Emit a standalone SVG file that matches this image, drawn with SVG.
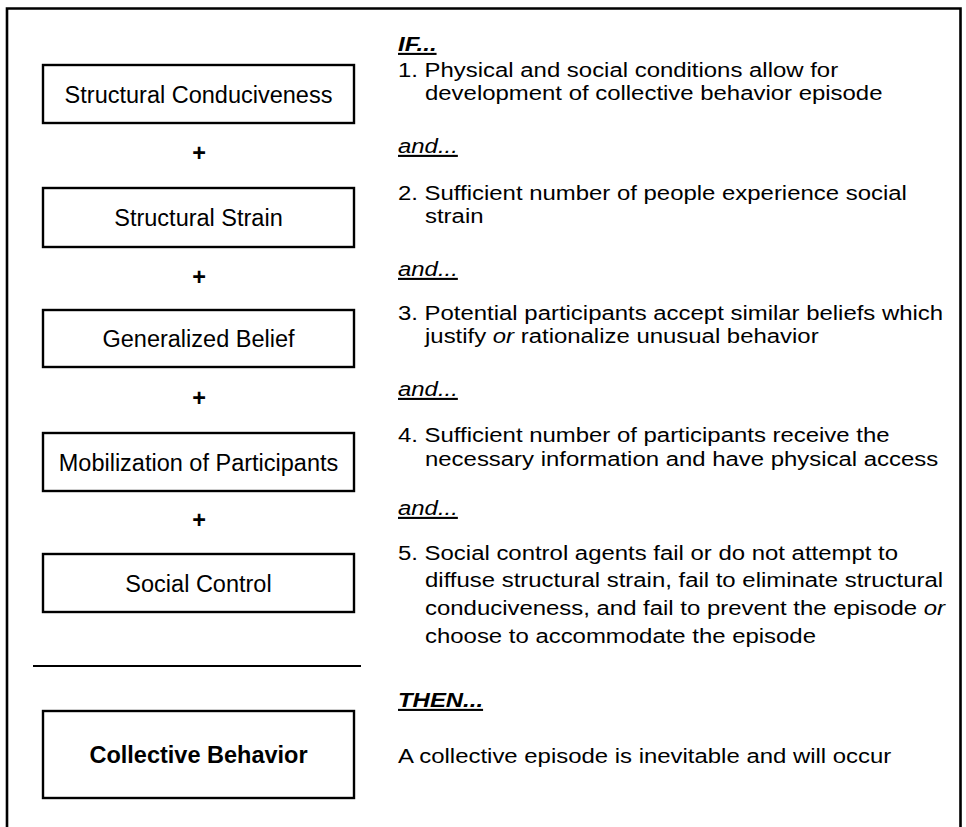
<svg xmlns="http://www.w3.org/2000/svg" width="966" height="827" viewBox="0 0 966 827">
  <style>
    .box { fill: #ffffff; stroke: #000000; stroke-width: 2.4; }
    .lbl { font-family: "Liberation Sans", Arial, sans-serif; font-size: 23.5px; fill: #000; text-anchor: middle; }
    .bold { font-weight: bold; }
    .plus { font-family: "Liberation Sans", Arial, sans-serif; font-size: 23.5px; font-weight: bold; fill: #000; text-anchor: middle; }
    .rt { font-family: "Liberation Sans", Arial, sans-serif; font-size: 21px; fill: #000; }
    .hd { font-style: italic; text-decoration: underline; }
    .it { font-style: italic; }
  </style>
  <rect x="0" y="0" width="966" height="827" fill="#ffffff"/>
  <path d="M7 835 V8.5 H960.5 V835" fill="none" stroke="#000" stroke-width="2.6"/>

  <g id="node-structural-conduciveness">
    <rect class="box" x="43" y="65" width="311" height="58"/>
    <text class="lbl" x="198.5" y="102.5">Structural Conduciveness</text>
  </g>
  <g id="node-structural-strain">
    <rect class="box" x="43" y="188" width="311" height="59"/>
    <text class="lbl" x="198.5" y="226">Structural Strain</text>
  </g>
  <g id="node-generalized-belief">
    <rect class="box" x="43" y="310" width="311" height="57"/>
    <text class="lbl" x="198.5" y="346.5">Generalized Belief</text>
  </g>
  <g id="node-mobilization">
    <rect class="box" x="43" y="433" width="311" height="58"/>
    <text class="lbl" x="198.5" y="470.5">Mobilization of Participants</text>
  </g>
  <g id="node-social-control">
    <rect class="box" x="43" y="554" width="311" height="58"/>
    <text class="lbl" x="198.5" y="591.5">Social Control</text>
  </g>
  <g id="node-collective-behavior">
    <rect class="box" x="43" y="711" width="311" height="87"/>
    <text class="lbl bold" x="198.5" y="763">Collective Behavior</text>
  </g>

  <g id="connectors">
    <text class="plus" x="199" y="161">+</text>
    <text class="plus" x="199" y="285">+</text>
    <text class="plus" x="199" y="406">+</text>
    <text class="plus" x="199" y="528">+</text>
    <line x1="33" y1="666" x2="361" y2="666" stroke="#000" stroke-width="2"/>
  </g>

  <g id="conditions" transform="translate(398 0) scale(1.14 1)">
    <text class="rt hd bold" x="0" y="51">IF...</text>
    <text class="rt" x="0" y="77">1. Physical and social conditions allow for</text>
    <text class="rt" x="23.7" y="100">development of collective behavior episode</text>
    <text class="rt hd" x="0" y="153">and...</text>
    <text class="rt" x="0" y="200">2. Sufficient number of people experience social</text>
    <text class="rt" x="23.7" y="223">strain</text>
    <text class="rt hd" x="0" y="276">and...</text>
    <text class="rt" x="0" y="320">3. Potential participants accept similar beliefs which</text>
    <text class="rt" x="23.7" y="343">justify <tspan class="it">or</tspan> rationalize unusual behavior</text>
    <text class="rt hd" x="0" y="396">and...</text>
    <text class="rt" x="0" y="442">4. Sufficient number of participants receive the</text>
    <text class="rt" x="23.7" y="466">necessary information and have physical access</text>
    <text class="rt hd" x="0" y="515">and...</text>
    <text class="rt" x="0" y="560">5. Social control agents fail or do not attempt to</text>
    <text class="rt" x="23.7" y="587">diffuse structural strain, fail to eliminate structural</text>
    <text class="rt" x="23.7" y="615">conduciveness, and fail to prevent the episode <tspan class="it">or</tspan></text>
    <text class="rt" x="23.7" y="643">choose to accommodate the episode</text>
    <text class="rt hd bold" x="0" y="707">THEN...</text>
    <text class="rt" x="0" y="763">A collective episode is inevitable and will occur</text>
  </g>
</svg>
